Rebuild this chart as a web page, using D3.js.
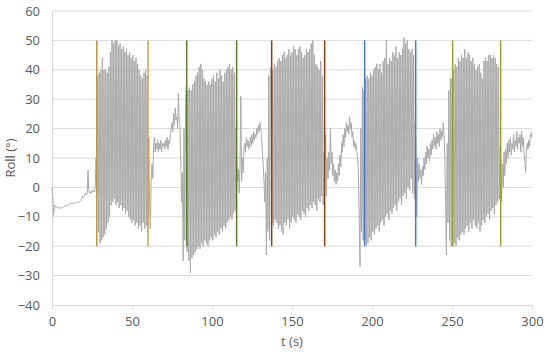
<!DOCTYPE html>
<html>
<head>
<meta charset="utf-8">
<script src="https://cdn.jsdelivr.net/npm/d3@7"></script>
<style>
body{margin:0;background:#fff;}
text{font-family:"Open Sans","Noto Sans",sans-serif;fill:#595959;}
</style>
</head>
<body>
<script>
var preStart = 0;
var preValues = [0,-3,-9.5,-6,-6.5,-6.5,-6.5,-7,-7,-7,-7,-7,-7,-6.8,-6.8,-6.5,-6.5,-6.3,-6.2,-6,-6,-5.8,-5.6,-5.5,-5.5,-5.5,-5.4,-5.4,-5.3,-5.3,-5.2,-5.2,-5.2,-5,-5,-4.8,-4.5,-4,-3,-3.5,-3,-2.5,-2,-2.5,-2,6,-1,-2,-1.5,-2,-1,-1.5,-1,-1.5,0,10,-2];

// oscillating blocks: one peak and one trough per second
var blockStarts = [28.5, 84, 137, 195, 250];
var block1Peaks = [38,39,40,44,40,40,39,41,46,50,49,50,50,48,49,47,48,46,47,45,46,44,45,43,44,42,40,38,37,39,40,38];
var block1Troughs = [-15,-19,-18,-17,-16,-14,-12,-10,-6,-5,-4,-6,-5,-7,-6,-8,-7,-9,-8,-10,-11,-12,-11,-13,-12,-14,-13,-15,-12,-14,-13,-15];
var block2Peaks = [35,33,34,33,35,36,38,39,41,42,40,37,36,35,36,35,37,38,36,39,37,40,38,36,39,40,41,42,40,41,39];
var block2Troughs = [-22,-25,-29,-24,-23,-22,-21,-20,-21,-19,-20,-18,-19,-20,-18,-17,-18,-16,-17,-15,-16,-14,-15,-13,-14,-12,-11,-10,-11,-9,-8];
var block3Peaks = [41,40,42,41,43,44,43,45,46,44,45,47,45,46,48,47,45,47,48,46,44,45,47,46,47,49,50,45,42,41,40,43,38];
var block3Troughs = [-12,-13,-11,-12,-14,-13,-15,-16,-12,-13,-11,-14,-12,-10,-11,-12,-9,-10,-11,-8,-9,-10,-7,-8,-6,-7,-5,-6,-8,-4,-5,-3,-6];
var block4Peaks = [33,37,38,37,39,38,40,41,42,40,42,39,43,44,50,42,44,43,46,45,48,44,46,45,47,51,49,50,47,46,47,45];
var block4Troughs = [-18,-20,-19,-17,-18,-15,-16,-14,-13,-15,-12,-11,-13,-10,-9,-11,-8,-9,-7,-6,-8,-5,-4,-6,-3,-2,-4,0,-1,3,-2,-4];
var block5Peaks = [37,40,42,41,44,43,45,44,47,44,46,45,43,44,42,40,41,42,39,37,43,44,43,45,45,44,45,44,42,41];
var block5Troughs = [-20,-19,-20,-17,-18,-16,-15,-16,-14,-13,-15,-12,-14,-11,-13,-14,-12,-15,-13,-11,-12,-10,-9,-11,-8,-7,-9,-6,-5,-4];

// calmer stretches between the blocks
var gapStarts = [60.5, 115, 170, 227, 280];
var gap1Values = [17,-6,-14,2,8,3,14,17,12,15,13,16,12,15,13,16,12,15,14,15,13,16,14,17,13,16,15,18,20,22,19,25,21,27,23,24,20,32,22,21,8,-5,5,-25,20,-18,30];
var gap2Values = [20,8,2,6,-2,8,31,2,10,5,13,15,12,17,14,16,13,15,17,14,18,15,19,16,18,17,20,18,21,19,22,20,17,12,8,2,-5,5,-23,10,-15,38,-18,40];
var gap3Values = [12,5,18,-3,10,3,12,6,20,8,12,4,8,2,6,1,5,2,8,4,11,7,15,12,18,14,20,17,22,19,21,18,24,20,22,17,19,14,16,13,15,12,10,5,-10,-27,20,-15,34,-18];
var gap4Values = [22,12,-10,10,2,8,3,6,1,7,4,10,6,12,8,14,10,13,9,15,11,16,13,18,14,17,13,19,15,18,14,20,16,19,17,22,18,10,-5,-23,15,-12,33,-18,37,-20];
var postValues = [14,10,-5,8,0,12,4,13,8,15,10,16,12,17,11,15,13,18,12,16,14,19,13,17,15,18,12,19,14,17,12,9,5,12,15,13,16,14,18,17,19];

// vertical markers (start / end of each run)
var markerTimes = [28, 60, 84.2, 115.4, 137.3, 170.4, 195.4, 227.3, 250.4, 280.4];
var markerColors = ["#B8963A","#E0A030","#5B7B2A","#5B7B2A","#8A3E12","#8A3E12","#4A74C8","#4A74C8","#A0A020","#A0A020"];
var markerTop = 50, markerBottom = -20;

var xTicks = [0, 50, 100, 150, 200, 250, 300];
var yTicks = [-40, -30, -20, -10, 0, 10, 20, 30, 40, 50, 60];

var w = 550, h = 355;

var svg = d3.select("body").append("svg")
	.attr("width", w)
	.attr("height", h);

var x = d3.scaleLinear().domain([0, 300]).range([52, 532]);
var y = d3.scaleLinear().domain([-40, 60]).range([305, 11]);

// build the series
var series = [];
function addSegment(start, vals){
	vals.forEach(function(v, i){ series.push({t: start + i*0.5, v: v}); });
}
function addBlock(start, peaks, troughs){
	peaks.forEach(function(p, i){
		series.push({t: start + i, v: p});
		series.push({t: start + i + 0.5, v: troughs[i]});
	});
}
var blocks = [[block1Peaks, block1Troughs],[block2Peaks, block2Troughs],[block3Peaks, block3Troughs],[block4Peaks, block4Troughs],[block5Peaks, block5Troughs]];
var gaps = [gap1Values, gap2Values, gap3Values, gap4Values, postValues];

addSegment(preStart, preValues);
for (var i = 0; i < 5; i++){
	addBlock(blockStarts[i], blocks[i][0], blocks[i][1]);
	addSegment(gapStarts[i], gaps[i]);
}

// gridlines
svg.append("g").selectAll("line")
	.data(yTicks.filter(function(d){ return d > -40; }))
	.enter().append("line")
	.attr("x1", x(0)).attr("x2", x(300))
	.attr("y1", function(d){ return y(d); })
	.attr("y2", function(d){ return y(d); })
	.attr("stroke", "#d9d9d9")
	.attr("stroke-width", 1);

// y axis
var yAxis = svg.append("g")
	.attr("transform", "translate(" + x(0) + ",0)")
	.call(d3.axisLeft(y).tickValues(yTicks).tickSize(0).tickPadding(12));
yAxis.select(".domain").attr("stroke", "#d9d9d9");
yAxis.selectAll("text").style("font-size", "13px").attr("fill", "#595959");

// x axis
var xAxis = svg.append("g")
	.attr("transform", "translate(0," + y(-40) + ")")
	.call(d3.axisBottom(x).tickValues(xTicks).tickSize(4).tickPadding(8));
xAxis.select(".domain").attr("stroke", "#d9d9d9");
xAxis.selectAll(".tick line").attr("stroke", "#d9d9d9");
xAxis.selectAll("text").style("font-size", "13px").attr("fill", "#595959");

// signal
svg.append("path")
	.datum(series)
	.attr("fill", "none")
	.attr("stroke", "#a9a9a9")
	.attr("stroke-width", 1)
	.attr("stroke-linejoin", "round")
	.attr("d", d3.line().x(function(d){ return x(d.t); }).y(function(d){ return y(d.v); }));

// markers
svg.append("g").selectAll("line")
	.data(markerTimes)
	.enter().append("line")
	.attr("x1", function(d){ return x(d); })
	.attr("x2", function(d){ return x(d); })
	.attr("y1", y(markerTop))
	.attr("y2", y(markerBottom))
	.attr("stroke", function(d, i){ return markerColors[i]; })
	.attr("stroke-width", 1.5);

// axis titles
svg.append("text")
	.attr("x", (x(0) + x(300)) / 2)
	.attr("y", 346)
	.attr("text-anchor", "middle")
	.style("font-size", "13px")
	.text("t (s)");

svg.append("text")
	.attr("transform", "translate(15," + y(10) + ") rotate(-90)")
	.attr("text-anchor", "middle")
	.style("font-size", "13px")
	.text("Roll (°)");
</script>
</body>
</html>
